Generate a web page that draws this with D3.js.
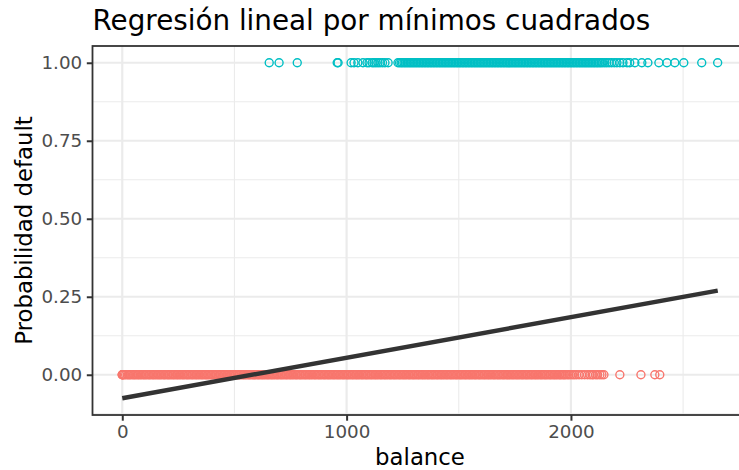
<!DOCTYPE html>
<html>
<head>
<meta charset="utf-8">
<script src="https://cdn.jsdelivr.net/npm/d3@7"></script>
<style>
  html, body { margin: 0; padding: 0; background: #ffffff; }
  svg { display: block; font-family: "DejaVu Sans", sans-serif; }
</style>
</head>
<body>
<svg id="chart" width="739" height="470"></svg>
<script>
// Balances of clients that did not default (default = 0)
const balanceNo = [0,0,0,4,9,15,22,27,33,38,45,51,56,62,69,74,80,86,93,98,104,110,117,122,128,135,140,146,152,159,164,170,176,183,188,194,201,206,212,218,225,230,236,243,248,254,260,267,272,278,285,290,296,302,309,314,320,327,332,338,344,351,356,362,369,374,380,386,393,398,404,411,416,422,428,435,440,446,453,458,464,470,477,482,488,495,500,506,512,519,524,530,537,542,548,554,561,566,572,579,584,590,596,603,608,614,621,626,632,638,645,650,656,663,668,674,680,687,692,698,705,710,716,722,729,734,740,747,752,758,764,771,776,782,789,794,800,806,813,818,824,831,836,842,848,855,860,866,873,878,884,890,897,902,908,915,920,926,932,939,944,950,957,962,968,974,981,986,992,999,1004,1010,1016,1023,1028,1034,1041,1046,1052,1058,1065,1070,1076,1083,1088,1094,1100,1107,1112,1118,1125,1130,1136,1142,1149,1154,1160,1167,1172,1178,1184,1191,1196,1202,1209,1214,1220,1226,1233,1238,1244,1251,1256,1262,1268,1275,1280,1286,1293,1298,1304,1310,1317,1322,1328,1335,1340,1346,1352,1359,1364,1370,1377,1382,1388,1394,1401,1406,1412,1419,1424,1430,1436,1443,1448,1454,1461,1466,1472,1478,1485,1490,1496,1503,1508,1514,1520,1527,1532,1538,1545,1550,1556,1562,1569,1574,1580,1587,1592,1598,1604,1611,1616,1622,1629,1634,1640,1646,1653,1658,1664,1671,1676,1682,1688,1695,1700,1706,1713,1718,1724,1730,1737,1742,1748,1755,1760,1766,1772,1779,1784,1790,1797,1802,1808,1814,1821,1826,1832,1839,1844,1850,1856,1863,1868,1874,1881,1886,1892,1898,1905,1910,1916,1923,1928,1934,1940,1947,1952,1958,1965,1970,1976,1984,1991,1999,2008,2016,2025,2036,2048,2061,2074,2085,2094,2100,2111,2119,2129,2138,2147,2218,2312,2374,2396];

// Balances of clients that defaulted (default = 1)
const balanceYes = [655,699,780,958,962,1020,1033,1050,1073,1091,1100,1114,1122,1131,1140,1149,1160,1171,1185,1229,1236,1243,1249,1256,1262,1269,1275,1282,1288,1295,1301,1308,1314,1321,1327,1334,1340,1347,1353,1360,1366,1373,1379,1386,1392,1399,1405,1412,1418,1425,1431,1438,1444,1451,1457,1464,1470,1477,1483,1490,1496,1503,1509,1516,1522,1529,1535,1542,1548,1555,1561,1568,1574,1581,1587,1594,1600,1607,1613,1620,1626,1633,1639,1646,1652,1659,1665,1672,1678,1685,1691,1698,1704,1711,1717,1724,1730,1737,1743,1750,1756,1763,1769,1776,1782,1789,1795,1802,1808,1815,1821,1828,1834,1841,1847,1854,1860,1867,1873,1880,1886,1893,1899,1906,1912,1919,1925,1932,1938,1945,1951,1958,1964,1971,1977,1984,1990,1997,2003,2010,2016,2023,2029,2036,2042,2049,2055,2062,2068,2075,2081,2088,2094,2101,2107,2114,2120,2127,2134,2142,2151,2160,2170,2181,2193,2205,2218,2232,2250,2262,2285,2316,2343,2392,2428,2463,2503,2583,2654];

// Least-squares fit evaluated at the ends of the balance range
const fitBalance = [0, 2654.3];
const fitProb = [-0.0752, 0.2696];

// Axis ticks
const xTicks = [0, 1000, 2000];
const xMinorTicks = [500, 1500, 2500];
const yTicks = [0, 0.25, 0.5, 0.75, 1.0];
const yMinorTicks = [-0.125, 0.125, 0.375, 0.625, 0.875];

const titleText = "Regresión lineal por mínimos cuadrados";
const xLabel = "balance";
const yLabel = "Probabilidad default";

const colNo = "#F8766D", colYes = "#00BFC4";

const svg = d3.select("#chart");
const W = 739, H = 470;
const panel = { left: 92.5, right: 747.5, top: 46, bottom: 415 };

// Data range expanded by 5% on each side
const xr = [0, 2654.3];
const xpad = (xr[1] - xr[0]) * 0.05;
const yr = [fitProb[0], 1];
const ypad = (yr[1] - yr[0]) * 0.05;

const x = d3.scaleLinear().domain([xr[0] - xpad, xr[1] + xpad]).range([panel.left, panel.right]);
const y = d3.scaleLinear().domain([yr[0] - ypad, yr[1] + ypad]).range([panel.bottom, panel.top]);

svg.append("rect").attr("width", W).attr("height", H).attr("fill", "#ffffff");

svg.append("clipPath").attr("id", "panelClip")
  .append("rect")
  .attr("x", panel.left).attr("y", panel.top)
  .attr("width", panel.right - panel.left).attr("height", panel.bottom - panel.top);

const plot = svg.append("g").attr("clip-path", "url(#panelClip)");

// Grid: minor then major
plot.selectAll(".gminx").data(xMinorTicks).join("line")
  .attr("x1", d => x(d)).attr("x2", d => x(d))
  .attr("y1", panel.top).attr("y2", panel.bottom)
  .attr("stroke", "#EBEBEB").attr("stroke-width", 1.1);
plot.selectAll(".gminy").data(yMinorTicks).join("line")
  .attr("y1", d => y(d)).attr("y2", d => y(d))
  .attr("x1", panel.left).attr("x2", panel.right)
  .attr("stroke", "#EBEBEB").attr("stroke-width", 1.1);
plot.selectAll(".gmajx").data(xTicks).join("line")
  .attr("x1", d => x(d)).attr("x2", d => x(d))
  .attr("y1", panel.top).attr("y2", panel.bottom)
  .attr("stroke", "#EBEBEB").attr("stroke-width", 2.2);
plot.selectAll(".gmajy").data(yTicks).join("line")
  .attr("y1", d => y(d)).attr("y2", d => y(d))
  .attr("x1", panel.left).attr("x2", panel.right)
  .attr("stroke", "#EBEBEB").attr("stroke-width", 2.2);

// Open-circle points
plot.append("g").selectAll("circle").data(balanceNo).join("circle")
  .attr("cx", d => x(d)).attr("cy", y(0)).attr("r", 4)
  .attr("fill", "none").attr("stroke", colNo).attr("stroke-width", 1.4);
plot.append("g").selectAll("circle").data(balanceYes).join("circle")
  .attr("cx", d => x(d)).attr("cy", y(1)).attr("r", 4)
  .attr("fill", "none").attr("stroke", colYes).attr("stroke-width", 1.4);

// Fitted line
const fitPts = fitBalance.map((b, i) => [b, fitProb[i]]);
plot.append("path")
  .attr("d", d3.line().x(d => x(d[0])).y(d => y(d[1]))(fitPts))
  .attr("fill", "none").attr("stroke", "#333333").attr("stroke-width", 4.4);

// Panel border
svg.append("rect")
  .attr("x", panel.left).attr("y", panel.top)
  .attr("width", panel.right - panel.left).attr("height", panel.bottom - panel.top)
  .attr("fill", "none").attr("stroke", "#333333").attr("stroke-width", 1.8);

// Axes
const xAxis = d3.axisBottom(x).tickValues(xTicks).tickFormat(d3.format("d"))
  .tickSize(5.7).tickPadding(4.6);
const gx = svg.append("g").attr("transform", `translate(0,${panel.bottom})`).call(xAxis);
gx.select(".domain").remove();
gx.selectAll(".tick line").attr("stroke", "#333333").attr("stroke-width", 2);
gx.selectAll(".tick text").attr("fill", "#4D4D4D").attr("font-size", 18.3)
  .attr("font-family", "DejaVu Sans, sans-serif");

const yAxis = d3.axisLeft(y).tickValues(yTicks).tickFormat(d3.format(".2f"))
  .tickSize(5.7).tickPadding(4.6);
const gy = svg.append("g").attr("transform", `translate(${panel.left},0)`).call(yAxis);
gy.select(".domain").remove();
gy.selectAll(".tick line").attr("stroke", "#333333").attr("stroke-width", 2);
gy.selectAll(".tick text").attr("fill", "#4D4D4D").attr("font-size", 18.3)
  .attr("font-family", "DejaVu Sans, sans-serif");

// Titles
svg.append("text").attr("x", panel.left).attr("y", 30)
  .attr("font-size", 27.8).attr("fill", "#000").text(titleText);
svg.append("text").attr("x", (panel.left + panel.right) / 2).attr("y", 465)
  .attr("text-anchor", "middle").attr("font-size", 22.8).attr("fill", "#000").text(xLabel);
svg.append("text")
  .attr("transform", `translate(32,${(panel.top + panel.bottom) / 2}) rotate(-90)`)
  .attr("text-anchor", "middle").attr("font-size", 22.8).attr("fill", "#000").text(yLabel);
</script>
</body>
</html>
